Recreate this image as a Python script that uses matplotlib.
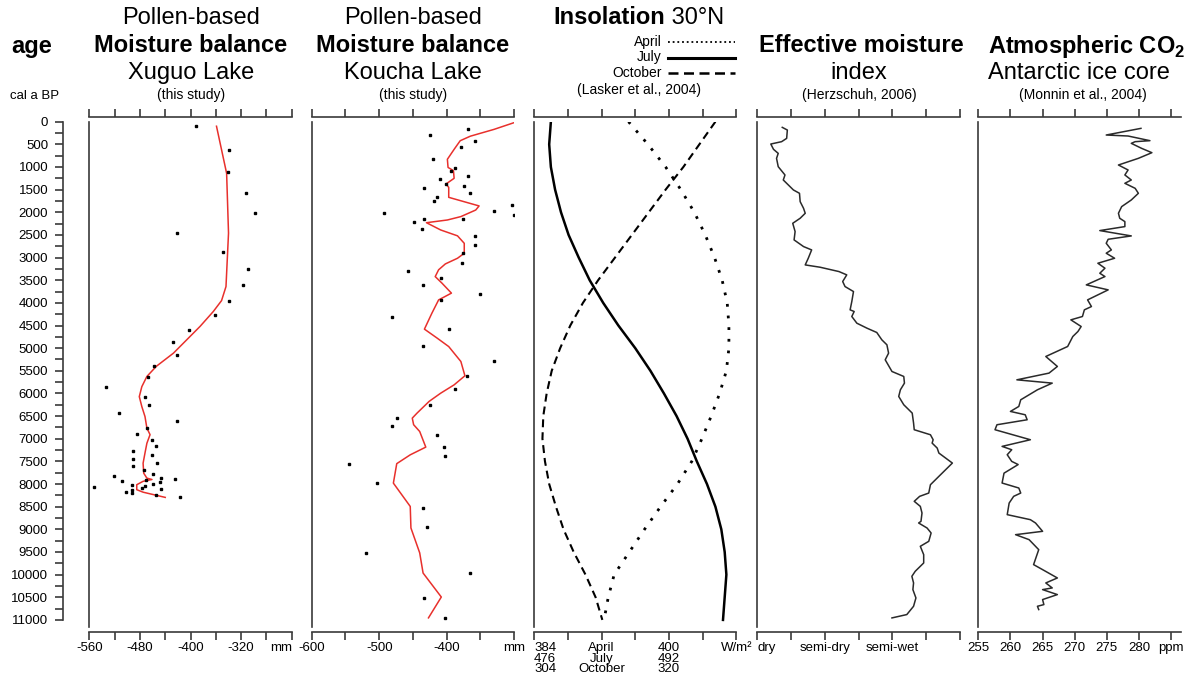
"""Holocene moisture records: pollen-based reconstructions compared with insolation, moisture index and CO2."""

import matplotlib.pyplot as plt
import numpy as np
from matplotlib.lines import Line2D

# Xuguo Lake, pollen-based moisture balance (mm)
xuguo_line_age = [100, 1140, 2460, 3640, 3950, 4190, 4520, 4815, 5110, 5400, 5625, 5850, 6070, 6290,
                  6510, 6765, 6910, 7100, 7315, 7540, 7760, 7870, 7900, 7940, 8015, 8125, 8180, 8295]
xuguo_line_mm = [-359, -343, -340, -344, -351, -364, -385, -406, -427, -454, -469, -477, -481, -477,
                 -472, -469, -464, -469, -472, -475, -474, -469, -461, -475, -485, -485, -475, -440]
xuguo_point_age = [96, 625, 1118, 1580, 2022, 2463, 2868, 3243, 3596, 3949, 4265, 4596, 4875, 5147,
                   5404, 5647, 5868, 6081, 6265, 6426, 6603, 6765, 6890, 7037, 7169, 7279, 7368, 7449,
                   7537, 7596, 7684, 7772, 7831, 7860, 7890, 7919, 7941, 7963, 8000, 8029, 8037, 8059,
                   8088, 8118, 8125, 8176, 8200, 8235, 8294]
xuguo_point_mm = [-391, -339, -341, -313, -298, -421, -349, -309, -317, -340, -361, -403, -428, -421,
                  -457, -468, -534, -472, -466, -513, -421, -469, -485, -461, -455, -491, -461, -491,
                  -453, -491, -474, -459, -521, -446, -424, -471, -508, -448, -459, -493, -472, -552,
                  -477, -446, -493, -502, -493, -454, -417]

# Koucha Lake, pollen-based moisture balance (mm)
koucha_line_age = [20, 170, 320, 420, 610, 830, 1010, 1080, 1250, 1375, 1450, 1670, 1860, 1950, 2095,
                   2170, 2230, 2390, 2520, 2685, 2905, 3015, 3140, 3270, 3420, 3565, 3785, 3935, 4230,
                   4580, 4780, 4965, 5295, 5610, 5810, 5995, 6175, 6435, 6545, 6690, 6840, 7185, 7355,
                   7550, 7980, 8495, 8970, 9520, 9965, 10495, 10955]
koucha_line_mm = [-300, -330, -365, -380, -389, -399, -398, -390, -389, -401, -397, -397, -352, -357,
                  -379, -399, -430, -409, -384, -374, -374, -384, -402, -412, -417, -407, -393, -412,
                  -422, -433, -414, -397, -379, -373, -389, -409, -426, -444, -451, -449, -440, -431,
                  -454, -474, -479, -454, -453, -440, -435, -408, -427]
koucha_point_age = [154, 301, 419, 566, 831, 1015, 1088, 1206, 1265, 1382, 1419, 1471, 1581, 1669,
                    1750, 1846, 1963, 2022, 2051, 2140, 2154, 2221, 2368, 2522, 2713, 2904, 3125, 3301,
                    3449, 3596, 3794, 3941, 4316, 4588, 4963, 5294, 5610, 5904, 6257, 6544, 6721, 6919,
                    7184, 7390, 7559, 7971, 8522, 8956, 9515, 9956, 10507, 10949]
koucha_point_mm = [-368, -424, -358, -379, -420, -387, -393, -368, -410, -401, -374, -433, -365, -414,
                   -419, -304, -330, -493, -300, -376, -433, -449, -437, -358, -358, -376, -378, -457,
                   -408, -435, -350, -408, -481, -396, -435, -330, -370, -388, -424, -473, -481, -414,
                   -404, -402, -545, -503, -435, -429, -519, -366, -433, -402]

# Insolation at 30N (W/m2), read every 500 years
insolation_age = list(range(0, 11001, 500))
insolation_april = [395.2, 397.5, 399.6, 401.4, 403.0, 404.3, 405.4, 406.3, 406.9, 407.1, 407.1, 406.8,
                    406.0, 405.0, 403.9, 402.7, 401.0, 399.0, 397.1, 395.3, 393.5, 392.8, 392.3]
insolation_july = [478.0, 477.8, 478.0, 478.5, 479.2, 480.1, 481.3, 482.6, 484.2, 486.0, 488.0, 489.8,
                   491.4, 492.9, 494.2, 495.3, 496.5, 497.5, 498.2, 498.6, 498.8, 498.6, 498.4]
insolation_october = [325.5, 323.6, 321.7, 319.6, 317.6, 315.6, 313.6, 311.6, 309.8, 308.3, 307.1, 306.1,
                      305.5, 305.1, 305.0, 305.3, 305.8, 306.6, 307.5, 308.7, 310.1, 311.3, 312.1]
insolation_base = {"April": 384, "July": 476, "October": 304}

# Effective moisture index (0 = dry ... 6 = wettest end of scale)
moisture_age = [125, 184, 368, 441, 493, 610, 699, 809, 993, 1176, 1287, 1397, 1507, 1581, 1765, 1912,
                2022, 2132, 2243, 2426, 2610, 2757, 2831, 3015, 3162, 3213, 3309, 3382, 3529, 3640,
                3750, 3971, 4154, 4191, 4301, 4449, 4559, 4654, 4816, 4926, 5110, 5257, 5515, 5625,
                5772, 5919, 6066, 6250, 6434, 6654, 6801, 6912, 7022, 7096, 7206, 7316, 7537, 7647,
                7794, 8015, 8199, 8272, 8382, 8493, 8640, 8824, 8860, 8971, 9081, 9265, 9375, 9559,
                9743, 9926, 10037, 10184, 10331, 10515, 10699, 10882, 10956]
moisture_index = [0.74, 0.89, 0.87, 0.72, 0.40, 0.48, 0.62, 0.57, 0.62, 0.82, 0.77, 0.92, 1.07, 1.25,
                  1.27, 1.37, 1.42, 1.27, 1.05, 1.12, 1.09, 1.37, 1.61, 1.51, 1.42, 1.86, 2.42, 2.65,
                  2.53, 2.60, 2.85, 2.80, 2.75, 2.87, 2.80, 2.95, 3.25, 3.54, 3.69, 3.84, 3.89, 3.79,
                  3.99, 4.34, 4.36, 4.24, 4.19, 4.34, 4.59, 4.63, 4.65, 5.13, 5.21, 5.18, 5.33, 5.38,
                  5.78, 5.63, 5.43, 5.13, 5.08, 4.81, 4.65, 4.83, 4.88, 4.85, 4.78, 5.03, 5.15, 5.08,
                  4.83, 4.93, 4.93, 4.68, 4.58, 4.63, 4.61, 4.70, 4.63, 4.43, 3.99]
moisture_tick_labels = ["dry", "", "semi-dry", "", "semi-wet", "", ""]

# Atmospheric CO2, Antarctic ice core (ppm)
co2_age = [147, 294, 316, 419, 441, 478, 588, 684, 809, 956, 1066, 1176, 1287, 1360, 1471, 1581, 1728,
           1875, 2022, 2132, 2206, 2316, 2404, 2522, 2596, 2684, 2831, 2904, 3015, 3125, 3235, 3346,
           3419, 3603, 3713, 3934, 4081, 4154, 4301, 4375, 4522, 4632, 4743, 4963, 5184, 5404, 5551,
           5699, 5772, 5919, 6140, 6287, 6397, 6471, 6581, 6691, 6801, 7022, 7169, 7243, 7353, 7500,
           7570, 7760, 7978, 8088, 8199, 8272, 8420, 8676, 8787, 8860, 9044, 9118, 9228, 9449, 9779,
           9890, 10074, 10184, 10294, 10331, 10441, 10551, 10662, 10699, 10772]
co2_ppm = [280.3, 274.9, 278.3, 281.7, 279.4, 278.8, 280.4, 282.0, 279.9, 276.8, 278.3, 277.8, 278.8,
           277.8, 279.4, 279.9, 278.8, 277.3, 276.8, 277.0, 277.8, 277.8, 273.9, 278.8, 275.2, 274.9,
           275.7, 274.9, 276.2, 273.6, 274.7, 273.9, 274.7, 271.8, 275.2, 272.0, 272.6, 271.5, 271.2,
           269.4, 271.0, 270.5, 269.7, 268.9, 265.5, 267.3, 266.0, 261.0, 266.5, 264.2, 261.6, 261.3,
           260.0, 262.3, 262.6, 257.9, 257.6, 263.1, 258.7, 260.2, 259.5, 260.2, 261.2, 259.0, 258.7,
           261.3, 261.6, 260.5, 259.8, 259.5, 263.1, 263.9, 265.0, 260.8, 262.9, 264.4, 263.6, 265.0,
           267.3, 265.5, 266.5, 265.0, 267.3, 265.0, 265.2, 264.2, 264.4]

W, H = 1191, 678
AGE_MAX = 11150
AXIS_COLOR = "#3a3a3a"
RED = "#e8302c"
PANEL_TOP, PANEL_BOTTOM, PANEL_WIDTH = 121.7, 626.7, 202.5

plt.rcParams["font.family"] = ["Liberation Sans", "DejaVu Sans"]
plt.rcParams["mathtext.fontset"] = "custom"
plt.rcParams["mathtext.rm"] = "Liberation Sans"
plt.rcParams["mathtext.bf"] = "Liberation Sans:bold"

fig = plt.figure(figsize=(W / 100, H / 100), dpi=100)


def px(x, y):
    """Pixel position (from top-left) to figure fraction."""
    return x / W, 1 - y / H


def make_panel(left, xlim, ticks, labels):
    """One stratigraphic column with detached tick axes on top and bottom."""
    ax = fig.add_axes([left / W, 1 - PANEL_BOTTOM / H, PANEL_WIDTH / W, (PANEL_BOTTOM - PANEL_TOP) / H])
    ax.set_xlim(*xlim)
    ax.set_ylim(AGE_MAX, 0)
    ax.spines["right"].set_visible(False)
    for side in ("top", "bottom"):
        ax.spines[side].set_position(("outward", 3.6))
    for spine in ax.spines.values():
        spine.set_color(AXIS_COLOR)
        spine.set_linewidth(1.2)
    ax.set_yticks([])
    ax.set_xticks(ticks)
    ax.set_xticklabels(labels)
    ax.tick_params(axis="x", top=True, bottom=True, direction="out", length=5.5, width=1.2,
                   color=AXIS_COLOR, labelsize=9.5, pad=2)
    return ax


# age axis
age_ax = fig.add_axes([62.7 / W, 1 - PANEL_BOTTOM / H, 1 / W, (PANEL_BOTTOM - PANEL_TOP) / H])
age_ax.set_ylim(AGE_MAX, 0)
for side in ("top", "bottom", "right"):
    age_ax.spines[side].set_visible(False)
age_ax.spines["left"].set_bounds(0, 11000)
age_ax.spines["left"].set_color(AXIS_COLOR)
age_ax.spines["left"].set_linewidth(1.2)
age_ax.set_xticks([])
age_ticks = np.arange(0, 11001, 500)
age_ax.set_yticks(age_ticks)
age_ax.set_yticklabels([str(t) for t in age_ticks])
age_ax.set_yticks(np.arange(250, 11000, 500), minor=True)
age_ax.tick_params(axis="y", which="both", direction="out", length=5.5, width=1.2,
                   color=AXIS_COLOR, labelsize=9.5, pad=5)

# Xuguo Lake
ax1 = make_panel(89.3, (-560, -240), np.arange(-560, -239, 40),
                 ["-560", "", "-480", "", "-400", "", "-320", "", "mm"])
ax1.get_xticklabels()[-1].set_ha("right")
ax1.plot(xuguo_line_mm, xuguo_line_age, color=RED, lw=1.1)
ax1.plot(xuguo_point_mm, xuguo_point_age, ls="none", marker="s", ms=2.0, color="black")

# Koucha Lake
ax2 = make_panel(311.7, (-600, -300), np.arange(-600, -299, 50),
                 ["-600", "", "-500", "", "-400", "", "mm"])
ax2.plot(koucha_line_mm, koucha_line_age, color=RED, lw=1.1)
ax2.plot(koucha_point_mm, koucha_point_age, ls="none", marker="s", ms=2.0, color="black")

# Insolation: one shared scale, each month shifted by its own base value
ax3 = make_panel(534, (0, 24), np.arange(0, 25, 4),
                 ["384\n476\n304", "", "April\nJuly\nOctober", "", "400\n492\n320", "", "W/m\u00b2"])
for lbl in ax3.get_xticklabels():
    lbl.set_linespacing(0.85)
ax3.get_xticklabels()[0].set_ha("left")
ax3.plot(np.array(insolation_april) - insolation_base["April"], insolation_age,
         color="black", lw=2.0, ls=(0, (1, 3.2)))
ax3.plot(np.array(insolation_july) - insolation_base["July"], insolation_age, color="black", lw=1.8)
ax3.plot(np.array(insolation_october) - insolation_base["October"], insolation_age,
         color="black", lw=1.5, ls=(0, (3.8, 2.4)))

# Effective moisture index
ax4 = make_panel(757.3, (0, 6), np.arange(0, 7), moisture_tick_labels)
ax4.get_xticklabels()[0].set_ha("left")
ax4.plot(moisture_index, moisture_age, color="#2a2a2a", lw=1.1)

# CO2
ax5 = make_panel(978.3, (255, 286.5), np.arange(255, 286, 5),
                 ["255", "260", "265", "270", "275", "280", "ppm"])
ax5.plot(co2_ppm, co2_age, color="#2a2a2a", lw=1.1)

# headers
TITLE, SMALL = 17, 10
fig.text(*px(11, 46), "age", fontsize=TITLE, fontweight="bold", ha="left", va="center")
fig.text(*px(10, 96), "cal a BP", fontsize=9.5, ha="left", va="center")

for cx, lake in ((191, "Xuguo Lake"), (413, "Koucha Lake")):
    fig.text(*px(cx, 18), "Pollen-based", fontsize=TITLE, ha="center", va="center")
    fig.text(*px(cx, 46), "Moisture balance", fontsize=TITLE, fontweight="bold", ha="center", va="center")
    fig.text(*px(cx, 73), lake, fontsize=TITLE, ha="center", va="center")
    fig.text(*px(cx, 95), "(this study)", fontsize=SMALL, ha="center", va="center")

fig.text(*px(665, 18), "Insolation", fontsize=TITLE, fontweight="bold", ha="right", va="center")
fig.text(*px(665, 18), " 30\u00b0N", fontsize=TITLE, ha="left", va="center")
legend_rows = [("April", 42, dict(lw=1.3, ls=(0, (1, 1.6)))),
               ("July", 57.5, dict(lw=2.2, ls="-")),
               ("October", 73, dict(lw=1.8, ls=(0, (4, 2.2))))]
for name, y, style in legend_rows:
    fig.text(*px(662, y), name, fontsize=SMALL, ha="right", va="center")
    x0, yf = px(668, y)
    x1, _ = px(735, y)
    fig.add_artist(Line2D([x0, x1], [yf, yf], transform=fig.transFigure, color="black", **style))
fig.text(*px(639, 90), "(Lasker et al., 2004)", fontsize=SMALL, ha="center", va="center")

fig.text(*px(861, 46), "Effective moisture", fontsize=TITLE, fontweight="bold", ha="center", va="center")
fig.text(*px(859, 73), "index", fontsize=TITLE, ha="center", va="center")
fig.text(*px(859, 95), "(Herzschuh, 2006)", fontsize=SMALL, ha="center", va="center")

fig.text(*px(988, 46), r"Atmospheric CO$_\mathbf{2}$", fontsize=TITLE, fontweight="bold",
         ha="left", va="center")
fig.text(*px(1079, 73), "Antarctic ice core", fontsize=TITLE, ha="center", va="center")
fig.text(*px(1083, 95), "(Monnin et al., 2004)", fontsize=SMALL, ha="center", va="center")

fig.savefig("out.png", dpi=100, facecolor="white")
